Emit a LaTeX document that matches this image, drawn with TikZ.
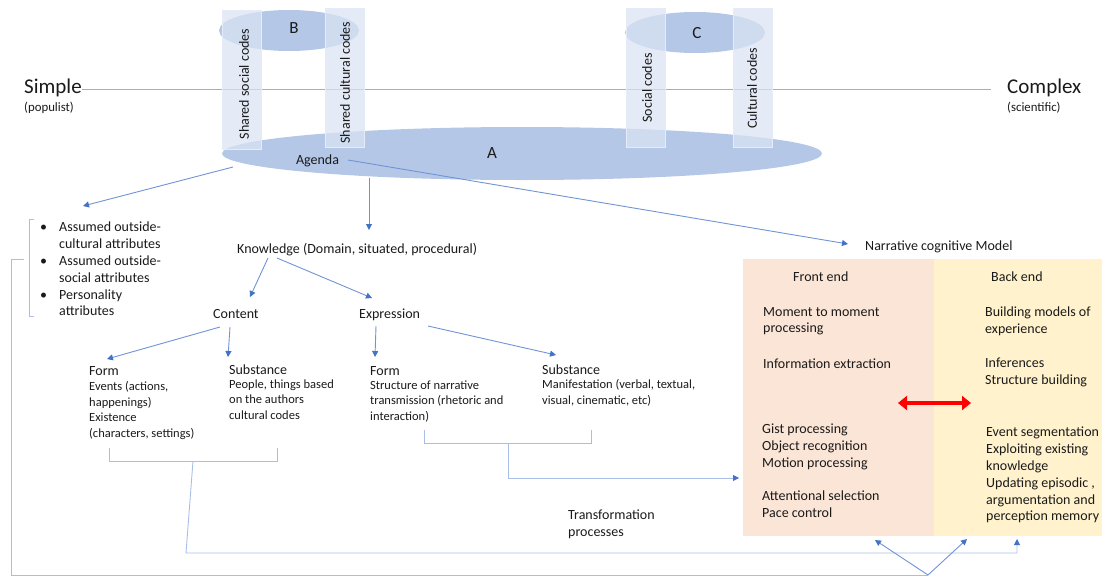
\documentclass[tikz,border=0pt]{standalone}
\usepackage{fontspec}
\setmainfont{Carlito}
\usetikzlibrary{shapes.geometric,arrows.meta}
\definecolor{lineblue}{HTML}{7094D6}
\definecolor{tipblue}{HTML}{4472C4}
\definecolor{brblue}{HTML}{A9BEE6}
\definecolor{ellblue}{HTML}{B4C7E7}
\definecolor{barblue}{HTML}{DAE3F3}
\definecolor{axispurple}{HTML}{BE9BDC}
\definecolor{frontpink}{HTML}{FBE5D6}
\definecolor{backyellow}{HTML}{FFF2CC}
\definecolor{txtgray}{HTML}{1A1A1A}
\definecolor{redarrow}{HTML}{FF0000}

\begin{document}
\begin{tikzpicture}[x=1pt,y=-1pt,
    txt/.style={anchor=north west,inner sep=0pt,text=txtgray,align=left,yshift=-2.5pt,
      font=\fontsize{14}{16.8}\selectfont,execute at begin node=\strut},
    small/.style={txt,font=\fontsize{12.5}{15.5}\selectfont},
    big/.style={inner sep=0pt,text=txtgray,font=\fontsize{21}{25}\selectfont},
    letter/.style={inner sep=0pt,text=txtgray,font=\fontsize{17}{20}\selectfont},
    ell/.style={ellipse,fill=ellblue,inner sep=0pt},
    codebar/.style={rectangle,draw=barblue!70!white,fill=barblue,fill opacity=0.72,
      inner sep=0pt,minimum width=39pt,minimum height=139pt},
    barlabel/.style={rotate=90,inner sep=0pt,text=txtgray,font=\fontsize{14}{16.8}\selectfont},
    box/.style={inner sep=0pt,minimum height=277pt},
    arr/.style={draw=lineblue,line width=0.9pt,-{Triangle[length=6pt,width=6pt,color=tipblue]}},
    brk/.style={draw=brblue,line width=0.9pt},
    axis/.style={draw=axispurple,line width=1.1pt},
    redarr/.style={draw=redarrow,line width=4pt,
      {Triangle[length=9pt,width=14pt]}-{Triangle[length=9pt,width=14pt]}}]
    \useasboundingbox (0,0) rectangle (1105,576);

    %NODE
    \node[big,anchor=base west] (simple) at (24,93) {Simple};
    \node[txt,font=\fontsize{12.8}{14}\selectfont] (populist) at (24,99.2) {(populist)};
    \node[big,anchor=base west] (complex) at (1007,93) {Complex};
    \node[txt,font=\fontsize{12.8}{14}\selectfont] (scientific) at (1007,99.2) {(scientific)};
    \draw[axis] ([yshift=3.5pt]simple.base east) -- ([xshift=-16pt,yshift=3.5pt]complex.base west);

    \node[ell,minimum width=600pt,minimum height=53pt] (ellA) at (522,153.5) {};
    \node[ell,minimum width=140pt,minimum height=41pt] (ellB) at (289,30.5) {};
    \node[ell,minimum width=140pt,minimum height=41pt] (ellC) at (695,32.5) {};
    \node[letter] (labB) at (294,28.5) {B};
    \node[letter] (labC) at (697,33) {C};

    \node[codebar] (socB) at (241.5,80) {};
    \node[codebar] (culB) at (345,77.5) {};
    \node[codebar] (socC) at (645.5,77.5) {};
    \node[codebar] (culC) at (752.5,77.5) {};
    \node[barlabel] (socBl) at (244,84) {Shared social codes};
    \node[barlabel] (culBl) at (345,82.5) {Shared cultural codes};
    \node[barlabel] (socCl) at (647,88) {Social codes};
    \node[barlabel] (culCl) at (752,88.5) {Cultural codes};

    \node[letter] (labA) at (492,153) {A};
    \node[inner sep=0pt,text=txtgray,font=\fontsize{14}{16.8}\selectfont] (agenda) at (317.5,161) {Agenda};

    \node[txt] (attr) at (40,217.5) {\begin{tabular}[t]{@{}p{19pt}@{}l@{}}
      \textbullet & Assumed outside-\\ & cultural attributes\\
      \textbullet & Assumed outside-\\ & social attributes\\
      \textbullet & Personality\\ & attributes\end{tabular}};

    \node[txt] (know) at (237,239.5) {Knowledge (Domain, situated, procedural)};
    \node[txt] (cont) at (213,304.5) {Content};
    \node[txt] (expr) at (359,304.5) {Expression};

    \node[txt] (formL) at (89,361.5) {Form};
    \node[small] (formLtxt) at (89,379.1) {Events (actions,\\happenings)\\Existence\\(characters, settings)};
    \node[txt] (subL) at (229,360.5) {Substance};
    \node[small] (subLtxt) at (229,377.1) {People, things based\\on the authors\\cultural codes};
    \node[txt] (formR) at (370,361.5) {Form};
    \node[small] (formRtxt) at (370,378.1) {Structure of narrative\\transmission (rhetoric and\\interaction)};
    \node[txt] (subR) at (542,360.5) {Substance};
    \node[small] (subRtxt) at (542,377.1) {Manifestation (verbal, textual,\\visual, cinematic, etc)};

    \node[txt] (trans) at (568,507.5) {Transformation\\processes};
    \node[txt] (ncm) at (865,236.5) {Narrative cognitive Model};

    \node[box,fill=frontpink,minimum width=191pt] (front) at (838.5,397.5) {};
    \node[box,fill=backyellow,minimum width=168pt] (back) at (1018,397.5) {};
    \node[txt] (fhead) at (793,267.5) {Front end};
    \node[txt] (bhead) at (991,267.5) {Back end};
    \node[txt] (f1) at (763,304.5) {Moment to moment\\processing};
    \node[txt] (f2) at (763,354.5) {Information extraction};
    \node[txt] (f3) at (762,421.5) {Gist processing\\Object recognition\\Motion processing};
    \node[txt] (f4) at (762,488.5) {Attentional selection\\Pace control};
    \node[txt] (b1) at (985,304.5) {Building models of\\experience};
    \node[txt] (b2) at (985,355.5) {Inferences\\Structure building};
    \node[txt] (b3) at (986,424.5) {Event segmentation\\Exploiting existing\\knowledge\\Updating episodic ,\\argumentation and\\perception memory};

    %COORD
    \coordinate (aL) at (233,167);   \coordinate (attrin) at (83,206);
    \coordinate (aK) at (369,178);   \coordinate (knowin) at (369,230);
    \coordinate (aN) at (348,160);   \coordinate (ncmin) at (848,244);
    \coordinate (kc) at (268,258);   \coordinate (contin) at (250,297);
    \coordinate (ke) at (277,258);   \coordinate (exprin) at (372,298);
    \coordinate (cf) at (220,327);   \coordinate (formLin) at (107,359);
    \coordinate (cs) at (230,327);   \coordinate (subLin) at (228,357);
    \coordinate (ef) at (376,326);   \coordinate (formRin) at (375,357);
    \coordinate (es) at (428,326);   \coordinate (subRin) at (556,355);
    \coordinate (bl1) at (109,448);  \coordinate (bl2) at (109,461);
    \coordinate (bl3) at (277,461);  \coordinate (bl4) at (277,448);
    \coordinate (bl5) at (193,461);  \coordinate (bl6) at (186,553);
    \coordinate (bl7) at (1017,553); \coordinate (backin) at (1017,539);
    \coordinate (br1) at (424,430);  \coordinate (br2) at (424,443);
    \coordinate (br3) at (591,443);  \coordinate (br4) at (591,430);
    \coordinate (br5) at (508,443);  \coordinate (br6) at (508,478);
    \coordinate (frontin) at (739,478);
    \coordinate (lb1) at (34,219);   \coordinate (lb2) at (29,219);
    \coordinate (lb3) at (29,316);   \coordinate (lb4) at (34,316);
    \coordinate (lb5) at (24,259);   \coordinate (lb6) at (11,259);
    \coordinate (lb7) at (11,575);   \coordinate (vb) at (928,575);
    \coordinate (vf) at (875,540);   \coordinate (vk) at (967,539);
    \coordinate (rl) at (898,403);   \coordinate (rr) at (971,403);

    %EDGE
    \draw[arr] (aL) -- (attrin);
    \draw[arr] (aK) -- (knowin);
    \draw[arr] (aN) -- (ncmin);
    \draw[arr] (kc) -- (contin);
    \draw[arr] (ke) -- (exprin);
    \draw[arr] (cf) -- (formLin);
    \draw[arr] (cs) -- (subLin);
    \draw[arr] (ef) -- (formRin);
    \draw[arr] (es) -- (subRin);

    \draw[brk] (bl1) -- (bl2) -- (bl3) -- (bl4);
    \draw[arr,draw=brblue] (bl5) -- (bl6) -- (bl7) -- (backin);
    \draw[brk] (br1) -- (br2) -- (br3) -- (br4);
    \draw[arr,draw=brblue] (br5) -- (br6) -- (frontin);

    \draw[brk] (lb1) -- (lb2) -- (lb3) -- (lb4);
    \draw[brk] (lb5) -- (lb6) -- (lb7) -- (vb);
    \draw[arr] (vb) -- (vf);
    \draw[arr] (vb) -- (vk);

    \draw[redarr] (rl) -- (rr);
\end{tikzpicture}
\end{document}
